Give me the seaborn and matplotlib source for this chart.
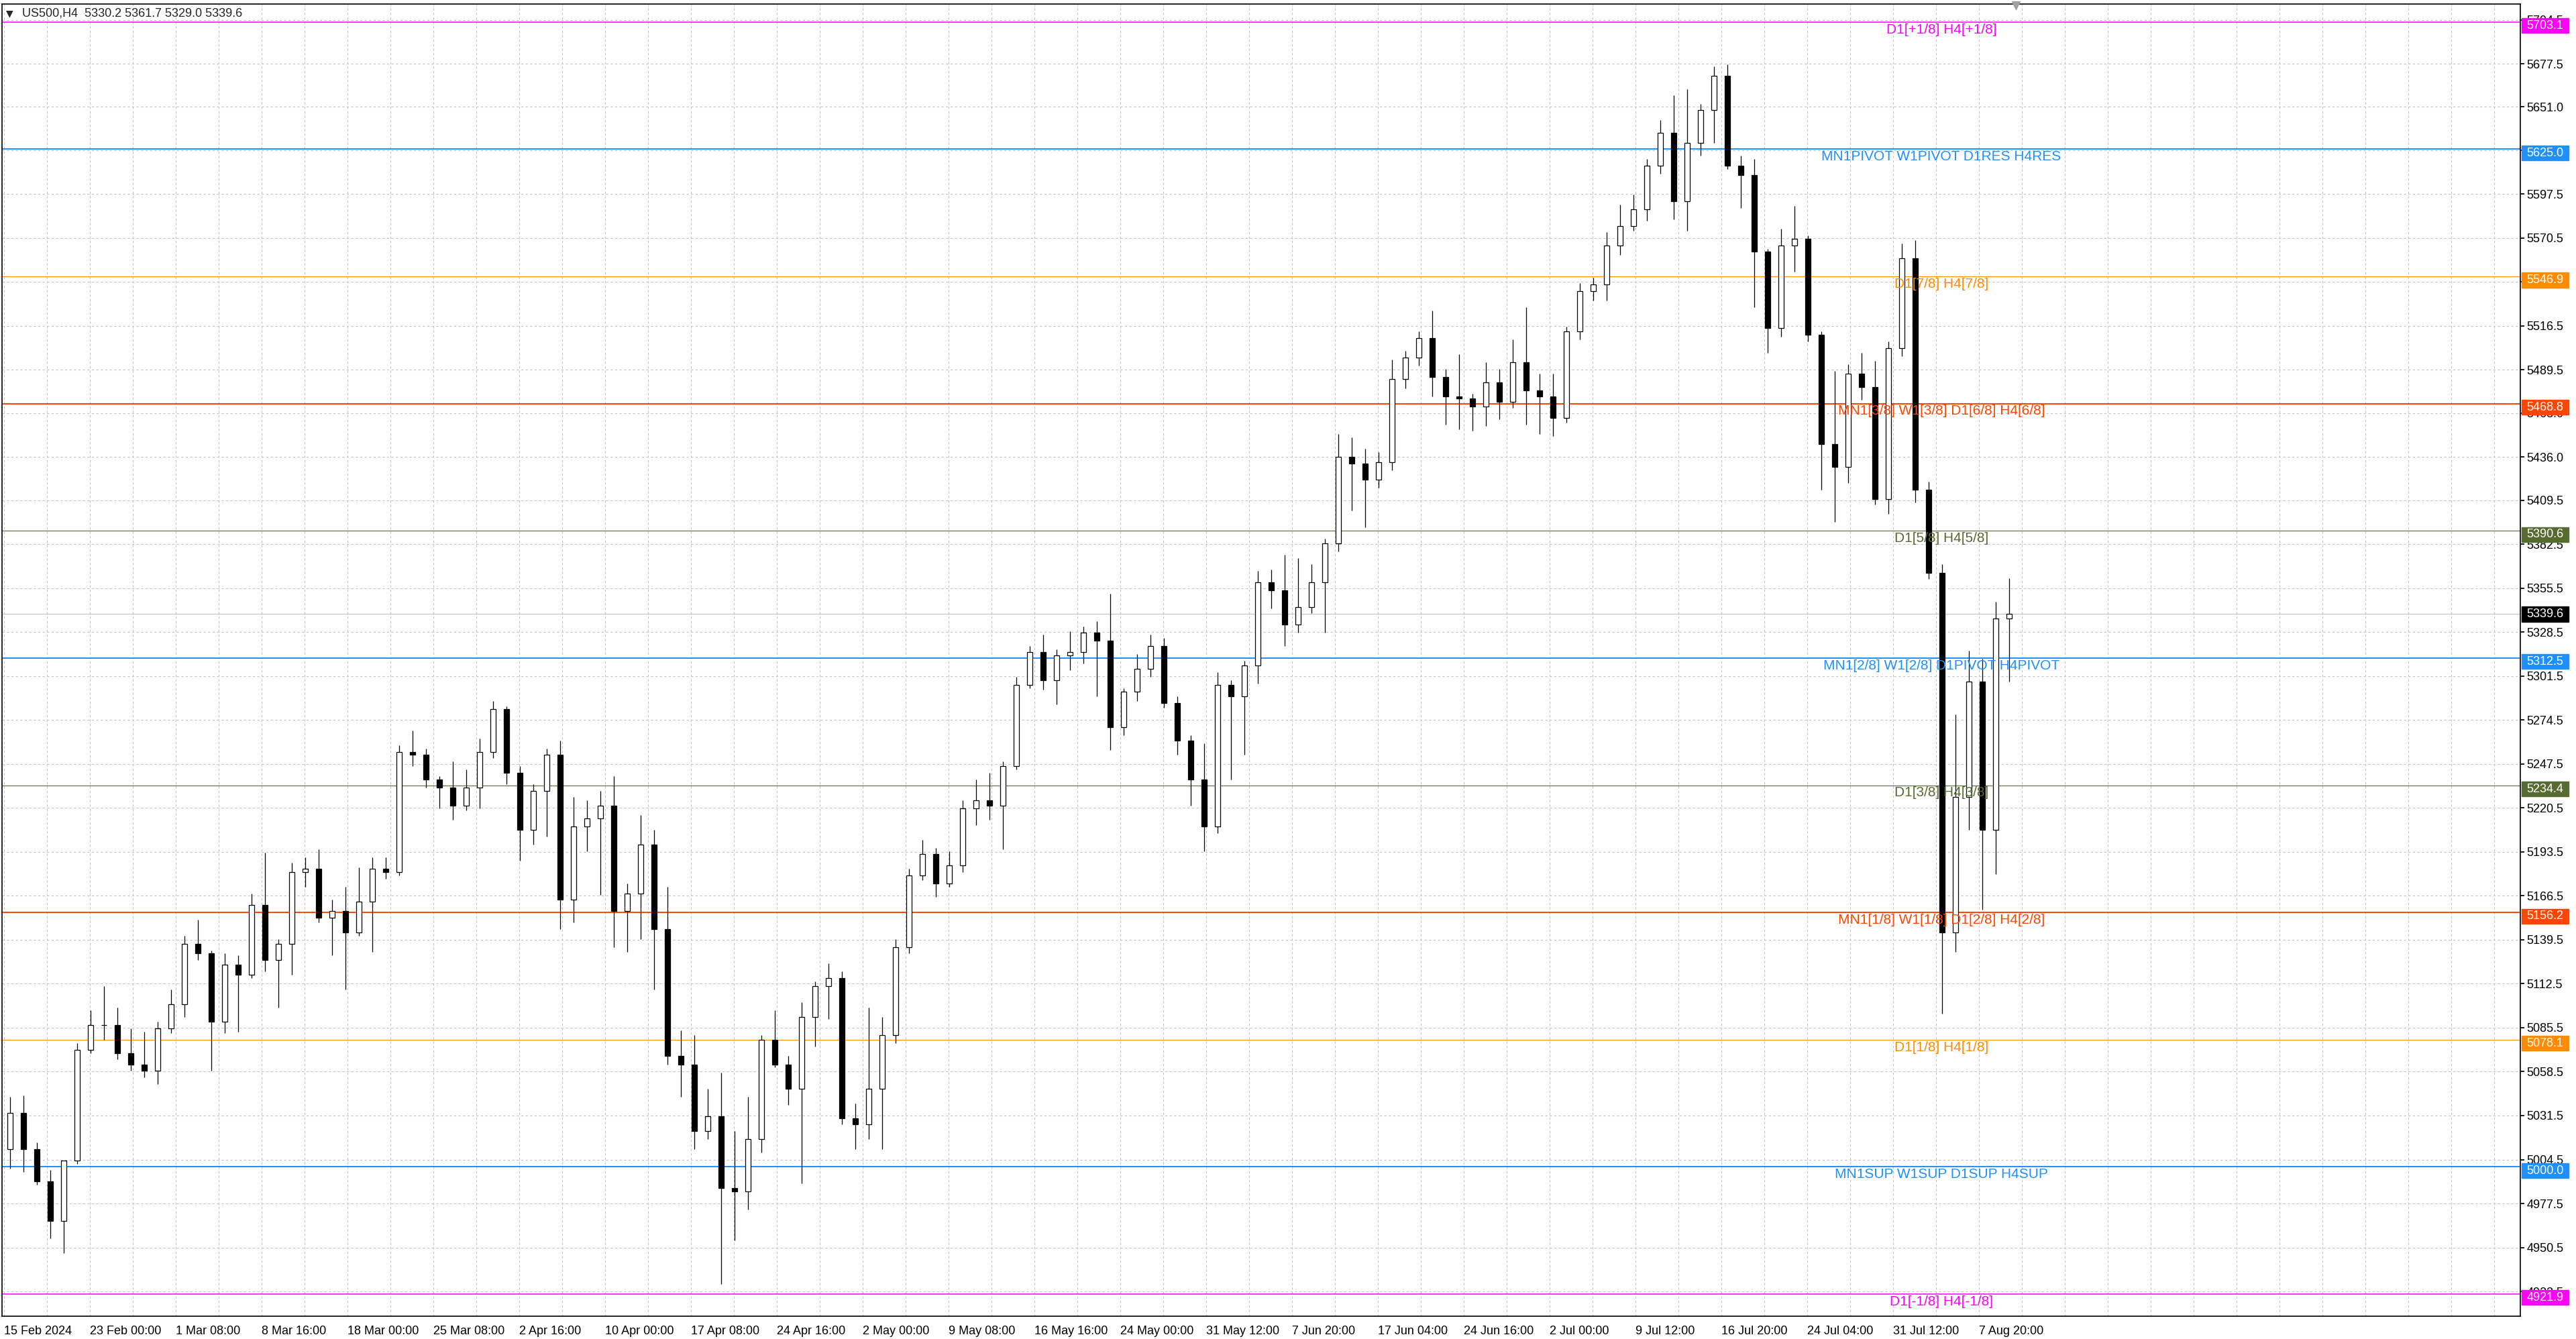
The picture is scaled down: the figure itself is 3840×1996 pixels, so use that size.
import numpy as np
import pandas as pd
import seaborn as sns
import matplotlib.pyplot as plt
from matplotlib.patches import Rectangle
from matplotlib.transforms import blended_transform_factory

# US500 H4 candles, grouped 5 bars per candle, prices
first_open = 5011
closes = [5033, 5011, 4991, 4967, 5004, 5072, 5087, 5087, 5070, 5063,
          5059, 5085, 5100, 5137, 5131, 5089, 5124, 5118, 5161, 5127,
          5137, 5181, 5183, 5153, 5157, 5144, 5163, 5183, 5181, 5255,
          5253, 5238, 5233, 5222, 5233, 5255, 5281, 5242, 5207, 5231,
          5253, 5164, 5209, 5214, 5222, 5157, 5168, 5198, 5146, 5068,
          5063, 5022, 5031, 4987, 4985, 5017, 5078, 5063, 5048, 5092,
          5111, 5116, 5030, 5026, 5048, 5081, 5135, 5179, 5192, 5174,
          5185, 5220, 5225, 5222, 5246, 5296, 5316, 5299, 5314, 5316,
          5328, 5323, 5270, 5292, 5306, 5320, 5285, 5262, 5238, 5209,
          5296, 5289, 5308, 5359, 5354, 5333, 5344, 5359, 5383, 5436,
          5432, 5422, 5433, 5484, 5497, 5509, 5485, 5473, 5472, 5467,
          5482, 5470, 5494, 5477, 5473, 5460, 5513, 5538, 5542, 5566,
          5578, 5588, 5615, 5635, 5593, 5629, 5649, 5670, 5615, 5609,
          5562, 5515, 5566, 5570, 5511, 5444, 5430, 5487, 5479, 5410,
          5503, 5558, 5416, 5365, 5144, 5227, 5298, 5207, 5337, 5339.6]
highs = [5043, 5044, 5015, 4998, 4976, 5076, 5096, 5111, 5098, 5085,
         5083, 5089, 5109, 5142, 5152, 5133, 5131, 5130, 5168, 5193,
         5140, 5187, 5190, 5195, 5164, 5172, 5184, 5190, 5190, 5259,
         5268, 5257, 5240, 5249, 5244, 5263, 5286, 5283, 5246, 5235,
         5257, 5262, 5227, 5225, 5231, 5240, 5174, 5216, 5207, 5172,
         5084, 5081, 5048, 5058, 5022, 5043, 5081, 5096, 5068, 5101,
         5114, 5125, 5120, 5039, 5098, 5092, 5140, 5183, 5201, 5196,
         5194, 5225, 5238, 5242, 5249, 5301, 5320, 5327, 5318, 5329,
         5332, 5335, 5352, 5294, 5315, 5327, 5325, 5289, 5265, 5260,
         5304, 5299, 5311, 5366, 5367, 5376, 5374, 5370, 5386, 5450,
         5448, 5441, 5439, 5496, 5501, 5513, 5526, 5490, 5499, 5475,
         5494, 5490, 5508, 5528, 5487, 5487, 5516, 5543, 5546, 5574,
         5591, 5597, 5619, 5643, 5658, 5662, 5653, 5676, 5677, 5621,
         5619, 5564, 5576, 5590, 5572, 5513, 5489, 5493, 5500, 5495,
         5507, 5567, 5569, 5421, 5370, 5278, 5317, 5312, 5347, 5361.7]
lows = [4999, 4997, 4989, 4956, 4947, 5002, 5070, 5078, 5066, 5059,
        5055, 5051, 5082, 5092, 5127, 5059, 5082, 5083, 5116, 5120,
        5098, 5118, 5172, 5150, 5130, 5109, 5142, 5132, 5177, 5179,
        5246, 5233, 5220, 5213, 5219, 5220, 5251, 5235, 5188, 5198,
        5203, 5146, 5150, 5194, 5167, 5135, 5132, 5140, 5109, 5063,
        5043, 5011, 5017, 4928, 4955, 4974, 5009, 5061, 5038, 4990,
        5074, 5091, 5026, 5011, 5017, 5011, 5076, 5131, 5176, 5166,
        5172, 5181, 5210, 5213, 5195, 5244, 5294, 5293, 5284, 5305,
        5309, 5289, 5256, 5265, 5286, 5301, 5282, 5253, 5222, 5194,
        5205, 5238, 5253, 5297, 5343, 5320, 5328, 5340, 5328, 5378,
        5403, 5393, 5417, 5428, 5478, 5492, 5473, 5456, 5453, 5452,
        5455, 5459, 5466, 5456, 5450, 5449, 5457, 5508, 5532, 5532,
        5560, 5575, 5581, 5610, 5582, 5575, 5621, 5629, 5613, 5589,
        5528, 5500, 5510, 5550, 5507, 5416, 5396, 5420, 5471, 5407,
        5401, 5498, 5408, 5361, 5094, 5132, 5207, 5158, 5180, 5298]

last_bar = [5330.2, 5361.7, 5329.0, 5339.6]

# Murrey math / pivot levels
level_values = [5703.1, 5625.0, 5546.9, 5468.8, 5390.6, 5312.5,
                5234.4, 5156.2, 5078.1, 5000.0, 4921.9]
level_names = ["D1[+1/8] H4[+1/8]", "MN1PIVOT W1PIVOT D1RES H4RES",
               "D1[7/8] H4[7/8]", "MN1[3/8] W1[3/8] D1[6/8] H4[6/8]",
               "D1[5/8] H4[5/8]", "MN1[2/8] W1[2/8] D1PIVOT H4PIVOT",
               "D1[3/8] H4[3/8]", "MN1[1/8] W1[1/8] D1[2/8] H4[2/8]",
               "D1[1/8] H4[1/8]", "MN1SUP W1SUP D1SUP H4SUP",
               "D1[-1/8] H4[-1/8]"]
level_colors = ["#FF00FF", "#1E90FF", "#FF8C00", "#FF4500", "#556B2F", "#1E90FF",
                "#556B2F", "#FF4500", "#FF8C00", "#1E90FF", "#FF00FF"]
level_widths = [1.1, 1.4, 0.8, 1.4, 0.8, 1.4, 0.8, 1.4, 0.8, 1.4, 1.1]

price_ticks = [5704.5, 5677.5, 5651.0, 5624.5, 5597.5, 5570.5, 5543.5, 5516.5,
               5489.5, 5463.0, 5436.0, 5409.5, 5382.5, 5355.5, 5328.5, 5301.5,
               5274.5, 5247.5, 5220.5, 5193.5, 5166.5, 5139.5, 5112.5, 5085.5,
               5058.5, 5031.5, 5004.5, 4977.5, 4950.5, 4923.5]
date_labels = ["15 Feb 2024", "23 Feb 00:00", "1 Mar 08:00", "8 Mar 16:00",
               "18 Mar 00:00", "25 Mar 08:00", "2 Apr 16:00", "10 Apr 00:00",
               "17 Apr 08:00", "24 Apr 16:00", "2 May 00:00", "9 May 08:00",
               "16 May 16:00", "24 May 00:00", "31 May 12:00", "7 Jun 20:00",
               "17 Jun 04:00", "24 Jun 16:00", "2 Jul 00:00", "9 Jul 12:00",
               "16 Jul 20:00", "24 Jul 04:00", "31 Jul 12:00", "7 Aug 20:00"]

sns.set_theme(style="white")
plt.rcParams["font.family"] = ["Liberation Sans", "DejaVu Sans"]

df = pd.DataFrame({"close": closes, "high": highs, "low": lows})
df["open"] = [first_open] + closes[:-1]
df["x"] = np.arange(len(df)) * 5 + 2.3   # x in H4-bar units, 5 bars per candle
df["up"] = df["close"] >= df["open"]

fig = plt.figure(figsize=(38.4, 19.96), dpi=100)
ax = fig.add_axes([3 / 3840, 34 / 1996, 3754 / 3840, 1956 / 1996])

# grid
ax.set_ylim(4908.3, 5714.2)
ax.set_xlim(-0.7, 937.8)
ax.set_yticks(price_ticks)
ax.set_yticklabels([f"{v:.1f}" for v in price_ticks])
ax.yaxis.tick_right()
ax.set_xticks(np.arange(len(date_labels)) * 32)
ax.set_xticklabels(date_labels, ha="left")
ax.set_xticks(np.arange(0, 938, 16), minor=True)
ax.tick_params(axis="y", length=4, pad=3, labelsize=13, colors="black")
ax.tick_params(axis="x", which="major", length=5, pad=5, labelsize=13, colors="black")
ax.tick_params(axis="x", which="minor", length=0)
ax.grid(True, axis="y", ls=(0, (3, 3)), color="#C4C4C4", lw=0.8)
ax.grid(True, axis="x", which="both", ls=(0, (3, 3)), color="#C4C4C4", lw=0.8)
for s in ax.spines.values():
    s.set_color("black")
    s.set_linewidth(1.2)

# levels
for val, name, col, lw in zip(level_values, level_names, level_colors, level_widths):
    ax.axhline(val, color=col, lw=lw, zorder=2)
    ax.annotate(name, (722, val), xytext=(0, -1.2), textcoords="offset points",
                ha="center", va="top", color=col, fontsize=15, zorder=4)
ax.axhline(last_bar[3], color="#C0C0C0", lw=0.8, zorder=2)

# candles
ax.vlines(df["x"], df["low"], df["high"], color="black", lw=0.9, zorder=3)
body_lo = df[["open", "close"]].min(axis=1)
body_h = (df["close"] - df["open"]).abs()
ax.bar(df["x"], body_h, bottom=body_lo, width=1.8,
       color=np.where(df["up"], "white", "black"), edgecolor="black", lw=0.9, zorder=3.5)

# price boxes on the right
trans = blended_transform_factory(ax.transAxes, ax.transData)
for val, col in zip(level_values, level_colors):
    ax.add_patch(Rectangle((1.0005, val - 6.8), 0.0187, 9.1, transform=trans,
                           color=col, clip_on=False, zorder=6))
    ax.text(1.0098, val - 2.3, f"{val:.1f}", transform=trans, color="white",
            ha="center", va="center", fontsize=13, zorder=7, clip_on=False)
ax.add_patch(Rectangle((1.0005, last_bar[3] - 4.7), 0.0187, 9.4, transform=trans,
                       color="black", clip_on=False, zorder=6))
ax.text(1.0098, last_bar[3], f"{last_bar[3]:.1f}", transform=trans, color="white",
        ha="center", va="center", fontsize=13, zorder=7, clip_on=False)

# header and shift marker
fig.text(14 / 3840, 1 - 20 / 1996, "\u25bc", ha="center", va="center",
         fontsize=10, family="DejaVu Sans")
fig.text(33 / 3840, 1 - 20 / 1996, "US500,H4  " + " ".join(f"{v:.1f}" for v in last_bar),
         ha="left", va="center", fontsize=13)
top = blended_transform_factory(ax.transData, ax.transAxes)
ax.plot([df["x"].iloc[-1] + 2.5], [0.999], marker="v", ms=9, color="#A0A0A0",
        transform=top, clip_on=False, zorder=8)

fig.savefig("out.png", dpi=100, facecolor="white")
